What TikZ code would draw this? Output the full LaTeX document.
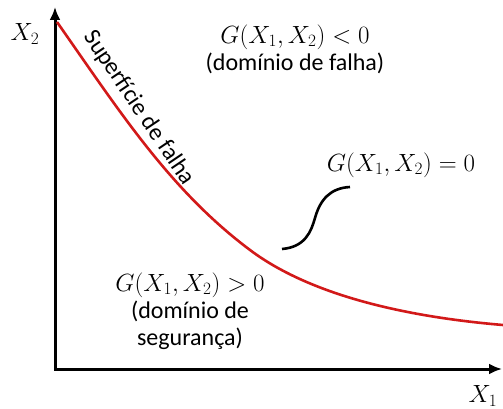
\documentclass[tikz,border=0pt]{standalone}
\usepackage[no-math]{fontspec}
\setmainfont{Carlito}
\usetikzlibrary{arrows.meta}
\definecolor{limitred}{RGB}{210,25,25}

\begin{document}
\begin{tikzpicture}[x=1pt,y=-1pt,
    axis/.style={line width=3pt,{Latex[length=13pt,width=11pt]}-{Latex[length=13pt,width=11pt]}},
    lbl/.style={font=\fontsize{24}{27}\selectfont,align=center,inner sep=0pt},
    limit/.style={limitred,line width=2.6pt}]
  \useasboundingbox (0,0) rectangle (503,409);
  \coordinate (o) at (55,369);
  \coordinate (xend) at (502,369);
  \coordinate (yend) at (55,7);
  \draw[axis] (yend)--(o)--(xend);
  \node[lbl] (x1) at (483,396) {$X_1$};
  \node[lbl] (x2) at (25,34) {$X_2$};
  % superficie de falha
  \draw[limit] (57,22) .. controls (120,112) and (170,190) .. (250,250)
    .. controls (316,299.5) and (420,318) .. (503,325);
  \node[lbl,rotate=-56] (surf) at (139,108) {Superfície de falha};
  \node[lbl] (fail) at (295,49) {$G(X_1,X_2)<0$\\(domínio de falha)};
  \node[lbl] (safe) at (190,311) {$G(X_1,X_2)>0$\\(domínio de\\segurança)};
  \node[lbl] (zero) at (401,165) {$G(X_1,X_2)=0$};
  \draw[line width=2.6pt] (282,249) .. controls (305,247) and (311,232) .. (315,218)
    .. controls (320,200) and (330,188) .. (350,187);
\end{tikzpicture}
\end{document}
